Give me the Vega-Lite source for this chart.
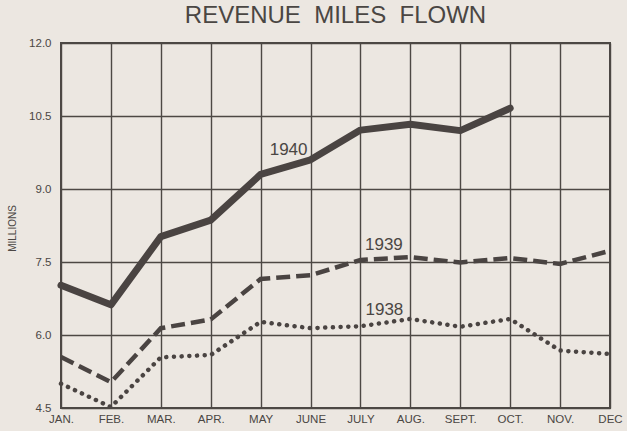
{
  "$schema": "https://vega.github.io/schema/vega-lite/v6.json",
  "width": 549,
  "height": 365,
  "autosize": {"type": "none"},
  "padding": {"left": 61, "top": 43, "right": 17, "bottom": 23},
  "background": "#ece7e1",
  "title": {
    "text": "REVENUE\u00a0\u00a0MILES\u00a0\u00a0FLOWN",
    "fontSize": 24,
    "fontWeight": "normal",
    "font": "Liberation Sans Narrow, Liberation Sans, sans-serif",
    "color": "#4a4643",
    "offset": 9,
    "anchor": "middle"
  },
  "config": {
    "view": {"stroke": "#4d4844", "strokeWidth": 2},
    "font": "Liberation Sans Narrow, Liberation Sans, sans-serif"
  },
  "datasets": {
    "series": [
      {"m": 1, "year": "1940", "v": 7.02},
      {"m": 2, "year": "1940", "v": 6.62},
      {"m": 3, "year": "1940", "v": 8.02},
      {"m": 4, "year": "1940", "v": 8.36},
      {"m": 5, "year": "1940", "v": 9.30},
      {"m": 6, "year": "1940", "v": 9.60},
      {"m": 7, "year": "1940", "v": 10.21},
      {"m": 8, "year": "1940", "v": 10.33},
      {"m": 9, "year": "1940", "v": 10.20},
      {"m": 10, "year": "1940", "v": 10.66},
      {"m": 1, "year": "1939", "v": 5.55},
      {"m": 2, "year": "1939", "v": 5.03},
      {"m": 3, "year": "1939", "v": 6.14},
      {"m": 4, "year": "1939", "v": 6.32},
      {"m": 5, "year": "1939", "v": 7.15},
      {"m": 6, "year": "1939", "v": 7.23},
      {"m": 7, "year": "1939", "v": 7.54},
      {"m": 8, "year": "1939", "v": 7.60},
      {"m": 9, "year": "1939", "v": 7.49},
      {"m": 10, "year": "1939", "v": 7.58},
      {"m": 11, "year": "1939", "v": 7.46},
      {"m": 12, "year": "1939", "v": 7.73},
      {"m": 1, "year": "1938", "v": 5.00},
      {"m": 2, "year": "1938", "v": 4.52},
      {"m": 3, "year": "1938", "v": 5.54},
      {"m": 4, "year": "1938", "v": 5.59},
      {"m": 5, "year": "1938", "v": 6.27},
      {"m": 6, "year": "1938", "v": 6.14},
      {"m": 7, "year": "1938", "v": 6.18},
      {"m": 8, "year": "1938", "v": 6.33},
      {"m": 9, "year": "1938", "v": 6.17},
      {"m": 10, "year": "1938", "v": 6.33},
      {"m": 11, "year": "1938", "v": 5.68},
      {"m": 12, "year": "1938", "v": 5.61}
    ],
    "labels": [
      {"label": "1940", "m": 5.56, "v": 9.8},
      {"label": "1939", "m": 7.47, "v": 7.85},
      {"label": "1938", "m": 7.48, "v": 6.51}
    ]
  },
  "encoding": {
    "x": {
      "field": "m", "type": "quantitative",
      "scale": {"domain": [1, 12], "nice": false, "zero": false},
      "axis": {
        "values": [1, 2, 3, 4, 5, 6, 7, 8, 9, 10, 11, 12],
        "labelExpr": "['JAN.','FEB.','MAR.','APR.','MAY','JUNE','JULY','AUG.','SEPT.','OCT.','NOV.','DEC'][datum.value - 1]",
        "title": null,
        "grid": true,
        "gridColor": "#4d4844",
        "gridWidth": 1.4,
        "gridOpacity": 1,
        "ticks": false,
        "domain": false,
        "labelPadding": 5,
        "labelFontSize": 11.5,
        "labelColor": "#4a4643",
        "labelFlush": false,
        "labelOverlap": false
      }
    },
    "y": {
      "field": "v", "type": "quantitative",
      "scale": {"domain": [4.5, 12], "nice": false, "zero": false},
      "axis": {
        "values": [4.5, 6, 7.5, 9, 10.5, 12],
        "format": ".1f",
        "title": "MILLIONS",
        "titleFontSize": 10,
        "titleFontWeight": "normal",
        "titleColor": "#4a4643",
        "titleX": -49,
        "titleY": 185,
        "titleAngle": -90,
        "titleBaseline": "middle",
        "grid": true,
        "gridColor": "#4d4844",
        "gridWidth": 1.4,
        "gridOpacity": 1,
        "ticks": false,
        "domain": false,
        "labelPadding": 10,
        "labelFontSize": 11.5,
        "labelColor": "#4a4643",
        "labelFlush": false
      }
    }
  },
  "layer": [
    {
      "data": {"name": "series"},
      "transform": [{"filter": "datum.year == '1938'"}],
      "mark": {"type": "line", "color": "#4a4442", "strokeWidth": 4.5, "strokeCap": "round", "strokeDash": [0.1, 7.6], "clip": false}
    },
    {
      "data": {"name": "series"},
      "transform": [{"filter": "datum.year == '1939'"}],
      "mark": {"type": "line", "color": "#4a4442", "strokeWidth": 4.5, "strokeCap": "butt", "strokeDash": [14, 6], "clip": false}
    },
    {
      "data": {"name": "series"},
      "transform": [{"filter": "datum.year == '1940'"}],
      "mark": {"type": "line", "color": "#4a4442", "strokeWidth": 7, "strokeCap": "round", "strokeJoin": "round", "clip": false}
    },
    {
      "data": {"name": "labels"},
      "mark": {"type": "text", "fontSize": 17, "color": "#4a4643", "align": "center", "baseline": "middle"},
      "encoding": {
        "text": {"field": "label"}
      }
    }
  ]
}
